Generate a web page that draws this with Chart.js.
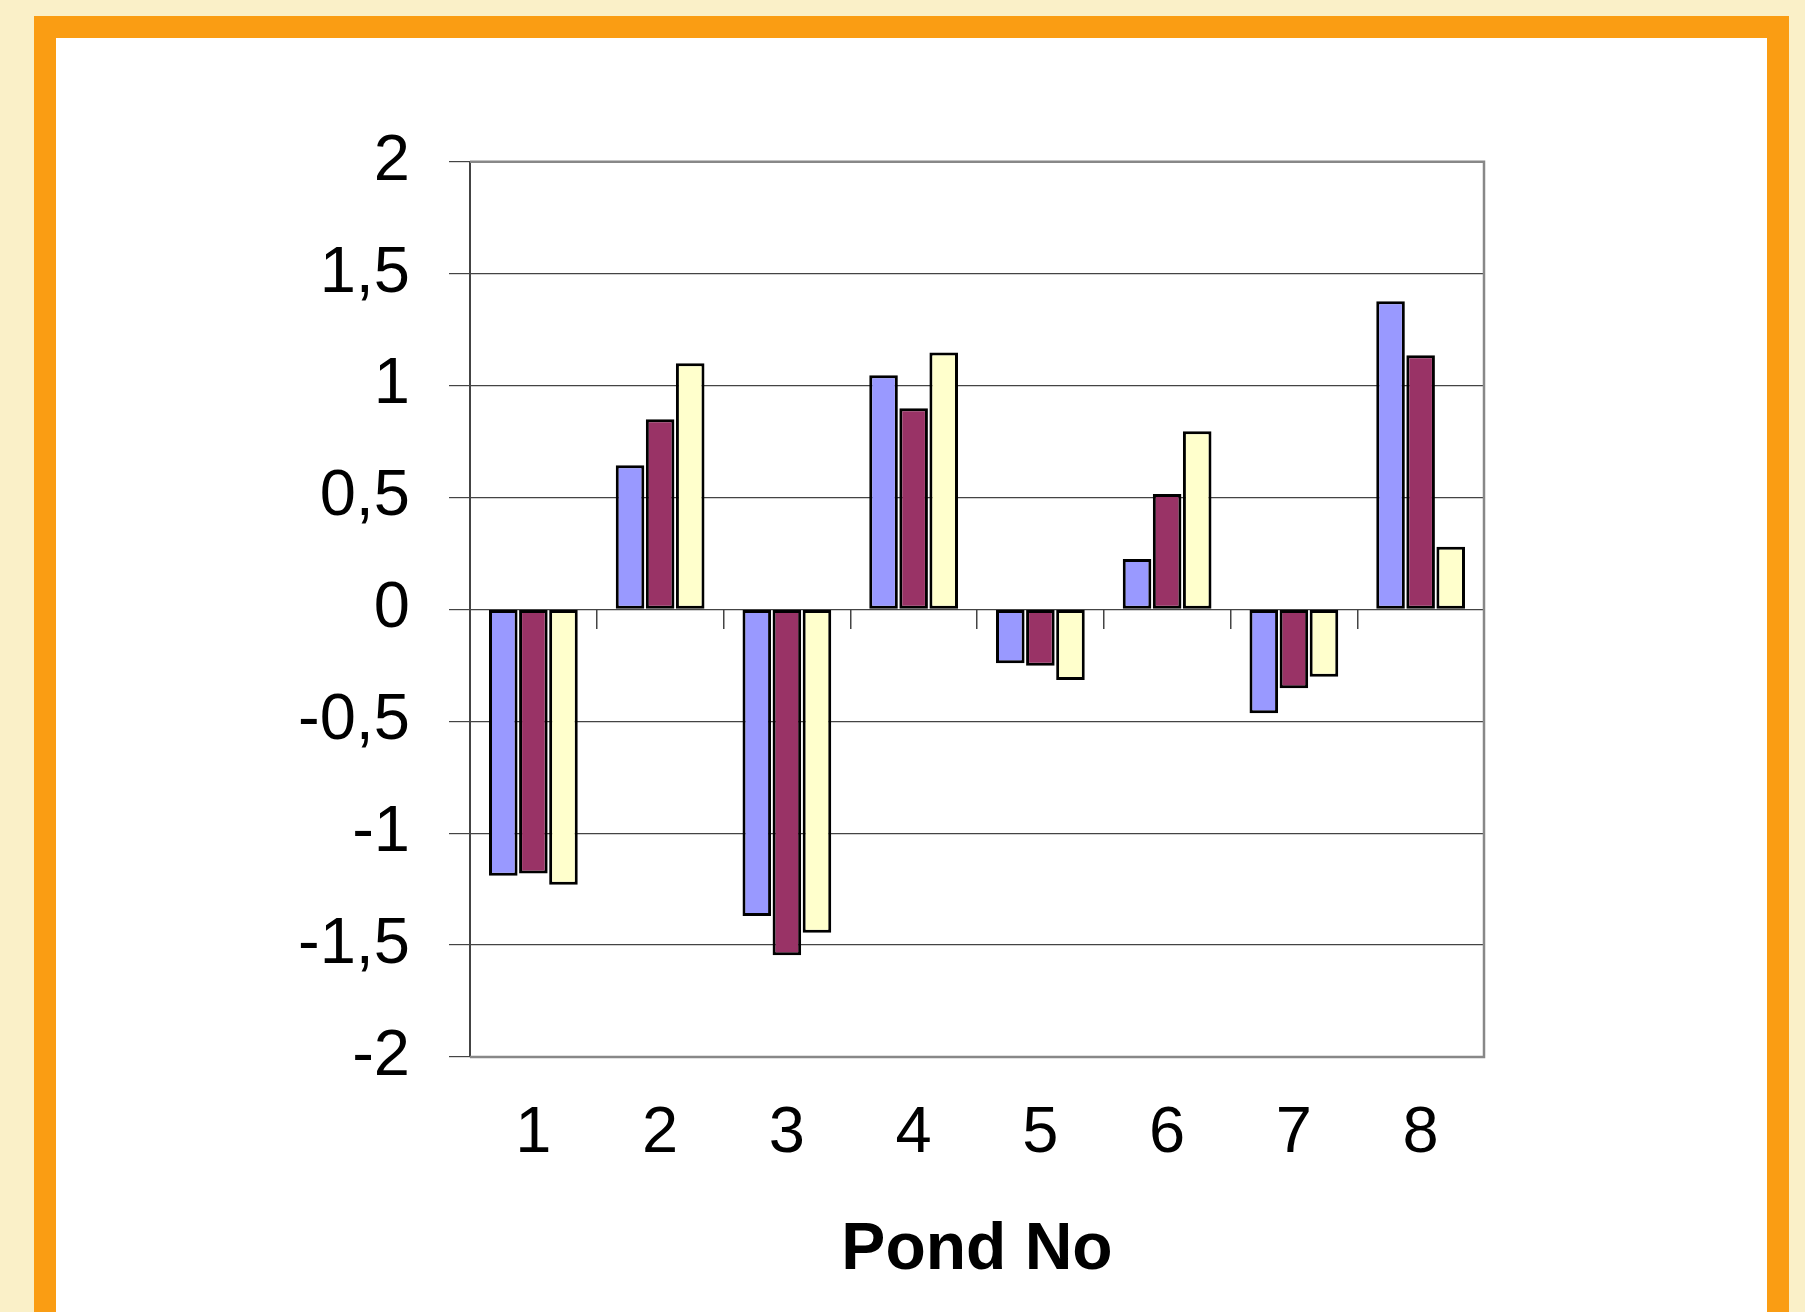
<!DOCTYPE html>
<html>
<head>
<meta charset="utf-8">
<script src="https://cdn.jsdelivr.net/npm/chart.js@4/dist/chart.umd.min.js"></script>
<style>
  html, body { margin: 0; padding: 0; width: 1805px; height: 1312px; overflow: hidden; background: #FAF0C8; }
  #frame { position: absolute; left: 34px; top: 16px; width: 1755px; height: 1400px; background: #FA9D13; }
  #inner { position: absolute; left: 56px; top: 38px; width: 1711px; height: 1400px; background: #FFFFFF; }
  #wrap { position: absolute; left: 0; top: 0; width: 1805px; height: 1312px; }
</style>
</head>
<body>
<div id="frame"></div>
<div id="inner"></div>
<div id="wrap"><canvas id="c"></canvas></div>
<script>
const categories = ['1', '2', '3', '4', '5', '6', '7', '8'];
const seriesA = [-1.19, 0.644, -1.37, 1.046, -0.241, 0.225, -0.464, 1.376];
const seriesB = [-1.18, 0.849, -1.545, 0.898, -0.252, 0.515, -0.353, 1.135];
const seriesC = [-1.23, 1.100, -1.445, 1.148, -0.316, 0.796, -0.301, 0.280];
const yMin = -2, yMax = 2, yStep = 0.5;
const xTitle = 'Pond No';

const plotBorder = {
  id: 'plotBorder',
  afterDraw(chart) {
    const {ctx, chartArea: a} = chart;
    ctx.save();
    ctx.strokeStyle = '#888888';
    ctx.lineWidth = 2.5;
    ctx.beginPath();
    ctx.moveTo(a.left, a.top);
    ctx.lineTo(a.right, a.top);
    ctx.lineTo(a.right, a.bottom);
    ctx.lineTo(a.left, a.bottom);
    ctx.stroke();
    ctx.restore();
  }
};

const barStyle = { borderColor: '#000000', borderWidth: 3, borderSkipped: false,
                   categoryPercentage: 0.712, barPercentage: 0.95 };

new Chart(document.getElementById('c'), {
  type: 'bar',
  data: {
    labels: categories,
    datasets: [
      Object.assign({ label: 'A', data: seriesA, backgroundColor: '#9999FF' }, barStyle),
      Object.assign({ label: 'B', data: seriesB, backgroundColor: '#993366' }, barStyle),
      Object.assign({ label: 'C', data: seriesC, backgroundColor: '#FFFFCC' }, barStyle)
    ]
  },
  options: {
    responsive: true,
    maintainAspectRatio: false,
    animation: false,
    layout: { padding: { left: 270, top: 161.7, right: 321, bottom: 0 } },
    plugins: { legend: { display: false }, tooltip: { enabled: false } },
    scales: {
      x: {
        type: 'category',
        position: 'bottom',
        afterFit(s) { s.height = 255; },
        grid: { display: false, drawTicks: false, tickLength: 0 },
        border: { display: false },
        ticks: { color: '#000', font: { family: 'Liberation Sans', size: 65 }, padding: 38, maxRotation: 0, autoSkip: false },
        title: { display: true, text: xTitle, color: '#000',
                 font: { family: 'Liberation Sans', size: 66, weight: 'bold' },
                 padding: { top: 31.4, bottom: 22 } }
      },
      x2: {
        type: 'category',
        labels: categories,
        position: { y: 0 },
        offset: true,
        grid: { display: true, offset: true, drawOnChartArea: false, drawTicks: true, tickLength: 20,
                color: '#444444', lineWidth: 1.5 },
        border: { display: false },
        ticks: { display: false }
      },
      y: {
        min: yMin, max: yMax,
        afterFit(s) { s.width = 200; },
        grid: { color: '#444444', lineWidth: 1.2, tickLength: 21, drawTicks: true },
        border: { display: true, color: '#444444', width: 2 },
        ticks: {
          stepSize: yStep,
          color: '#000',
          padding: 39,
          font: { family: 'Liberation Sans', size: 65 },
          callback: v => String(v).replace('.', ',')
        }
      }
    }
  },
  plugins: [plotBorder]
});
</script>
</body>
</html>
